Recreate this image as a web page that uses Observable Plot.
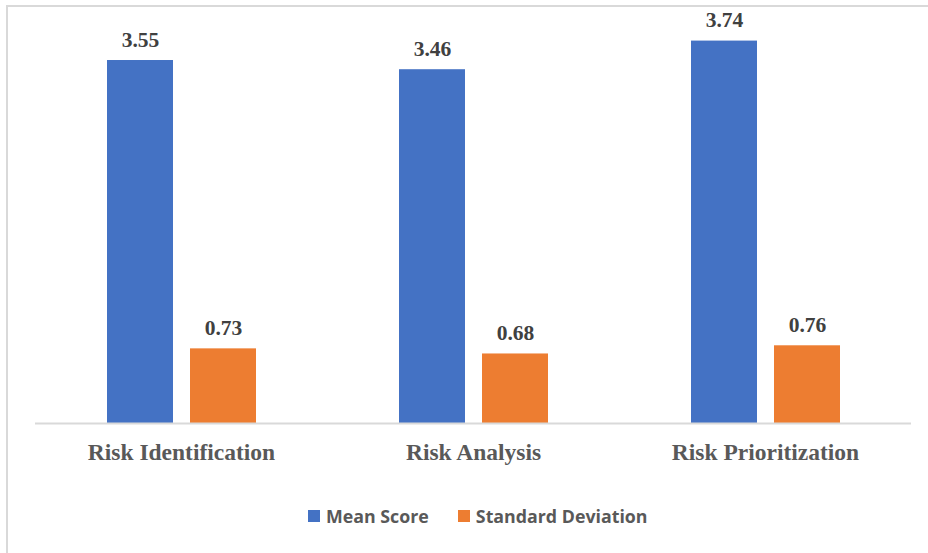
<!DOCTYPE html>
<html>
<head>
<meta charset="utf-8">
<script src="https://cdn.jsdelivr.net/npm/d3@7"></script>
<script src="https://cdn.jsdelivr.net/npm/@observablehq/plot@0.6"></script>
<style>
  html, body { margin: 0; padding: 0; background: #fff; overflow: hidden; }
  #frame { position: relative; width: 928px; height: 553px; overflow: hidden; }
  #border { position: absolute; left: 6px; top: 5px; width: 940px; height: 570px; border: 2px solid #d9d9d9; box-sizing: border-box; }
  #chart { position: absolute; left: 0; top: 0; }
  #legend { position: absolute; left: 308px; top: 504px; display: flex; gap: 29px;
            font-family: "Open Sans", sans-serif; font-weight: bold; font-size: 17.8px; color: #595959; }
  .item { display: flex; align-items: center; gap: 6px; }
  .swatch { width: 12px; height: 12px; display: inline-block; }
</style>
</head>
<body>
<div id="frame">
  <div id="border"></div>
  <div id="chart"></div>
  <div id="legend"></div>
</div>
<script>
// Survey results by risk-management stage
const categories = ["Risk Identification", "Risk Analysis", "Risk Prioritization"];
const series = ["Mean Score", "Standard Deviation"];
const meanScores = [3.55, 3.46, 3.74];
const stdDevs = [0.73, 0.68, 0.76];
const colors = ["#4472C4", "#ED7D31"];

const rows = categories.flatMap((c, i) => [
  {category: c, series: series[0], value: meanScores[i]},
  {category: c, series: series[1], value: stdDevs[i]}
]);

const chart = Plot.plot({
  width: 928,
  height: 480,
  marginLeft: 35,
  marginRight: 17,
  marginTop: 14,
  marginBottom: 57,
  fx: {domain: categories, padding: 0, label: null},
  x: {domain: series, axis: null, paddingInner: 0.21, paddingOuter: 0.86},
  y: {domain: [0, 4], axis: null},
  color: {domain: series, range: colors},
  marks: [
    Plot.barY(rows, {fx: "category", x: "series", y: "value", fill: "series"}),
    Plot.ruleY([0], {stroke: "#d9d9d9", strokeWidth: 2}),
    Plot.text(rows, {
      fx: "category", x: "series", y: "value",
      text: d => d.value.toFixed(2),
      lineAnchor: "bottom", dy: -14,
      fontFamily: "Liberation Serif", fontWeight: "bold", fontSize: 21.5, fill: "#404040"
    }),
    Plot.axisFx({
      anchor: "bottom", tickSize: 0, tickPadding: 20, label: null,
      fontFamily: "Liberation Serif", fontWeight: "bold", fontSize: 23.5, fill: "#595959"
    })
  ]
});
document.getElementById("chart").append(chart);

const legend = document.getElementById("legend");
series.forEach((s, i) => {
  const item = document.createElement("div");
  item.className = "item";
  const sw = document.createElement("span");
  sw.className = "swatch";
  sw.style.background = colors[i];
  const label = document.createElement("span");
  label.textContent = s;
  item.append(sw, label);
  legend.append(item);
});
</script>
</body>
</html>
